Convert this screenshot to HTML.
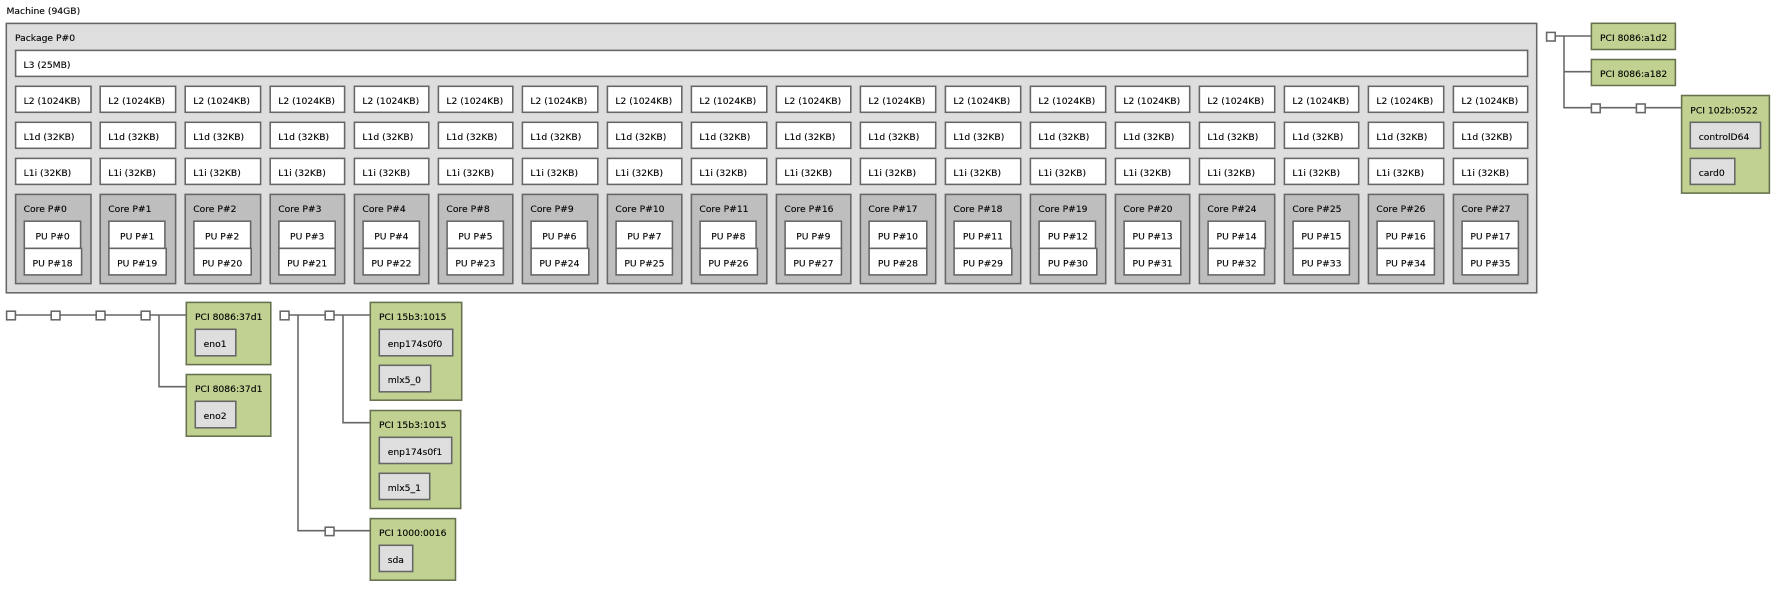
<!DOCTYPE html>
<html><head><meta charset="utf-8">
<style>
html,body{margin:0;padding:0;background:#fff}
svg{display:block;filter:blur(.25px)}
rect{stroke:#666;stroke-width:1.55;fill:#fff}
line,path{stroke:#666;stroke-width:1.55;fill:none}
.p{fill:#dedede}.c{fill:#bebebe}
.g{fill:#c0d192;stroke:#65704c}
.o{fill:#dedede}
text{font-family:"DejaVu Sans",sans-serif;font-size:9.2px;fill:#000;stroke:#000;stroke-width:.12}
.m{text-anchor:middle}
</style></head><body>
<svg width="1776" height="589" viewBox="0 0 1776 589" xmlns="http://www.w3.org/2000/svg">
<text x="6.5" y="14">Machine (94GB)</text>
<rect class="p" x="6.3" y="23.4" width="1530.4" height="269.4"/>
<text x="15" y="41">Package P#0</text>
<rect x="15.6" y="50.4" width="1512" height="26"/>
<text x="23.5" y="68">L3 (25MB)</text>

<g transform="translate(15.6)"><rect x="0" y="86.3" width="75.4" height="26"/><rect x="0" y="122.3" width="75.4" height="26"/><rect x="0" y="158.4" width="75.4" height="26"/><rect class="c" x="0" y="194.4" width="75.4" height="89.2"/><rect x="8.7" y="221.2" width="56.3" height="27.2"/><rect x="8.7" y="248.4" width="57.3" height="26.5"/><text x="8" y="104">L2 (1024KB)</text><text x="8" y="140">L1d (32KB)</text><text x="8" y="176">L1i (32KB)</text><text x="8" y="212">Core P#0</text><text class="m" x="37" y="239.5">PU P#0</text><text class="m" x="37" y="266.5">PU P#18</text></g>
<g transform="translate(100.2)"><rect x="0" y="86.3" width="75.4" height="26"/><rect x="0" y="122.3" width="75.4" height="26"/><rect x="0" y="158.4" width="75.4" height="26"/><rect class="c" x="0" y="194.4" width="75.4" height="89.2"/><rect x="8.7" y="221.2" width="56" height="27.2"/><rect x="8.7" y="248.4" width="57.3" height="26.5"/><text x="8" y="104">L2 (1024KB)</text><text x="8" y="140">L1d (32KB)</text><text x="8" y="176">L1i (32KB)</text><text x="8" y="212">Core P#1</text><text class="m" x="37" y="239.5">PU P#1</text><text class="m" x="37" y="266.5">PU P#19</text></g>
<g transform="translate(185.2)"><rect x="0" y="86.3" width="75.4" height="26"/><rect x="0" y="122.3" width="75.4" height="26"/><rect x="0" y="158.4" width="75.4" height="26"/><rect class="c" x="0" y="194.4" width="75.4" height="89.2"/><rect x="8.7" y="221.2" width="56.7" height="27.2"/><rect x="8.7" y="248.4" width="57.3" height="26.5"/><text x="8" y="104">L2 (1024KB)</text><text x="8" y="140">L1d (32KB)</text><text x="8" y="176">L1i (32KB)</text><text x="8" y="212">Core P#2</text><text class="m" x="37" y="239.5">PU P#2</text><text class="m" x="37" y="266.5">PU P#20</text></g>
<g transform="translate(270.2)"><rect x="0" y="86.3" width="74.4" height="26"/><rect x="0" y="122.3" width="74.4" height="26"/><rect x="0" y="158.4" width="74.4" height="26"/><rect class="c" x="0" y="194.4" width="74.4" height="89.2"/><rect x="8.7" y="221.2" width="56.3" height="27.2"/><rect x="8.7" y="248.4" width="56.3" height="26.5"/><text x="8" y="104">L2 (1024KB)</text><text x="8" y="140">L1d (32KB)</text><text x="8" y="176">L1i (32KB)</text><text x="8" y="212">Core P#3</text><text class="m" x="37" y="239.5">PU P#3</text><text class="m" x="37" y="266.5">PU P#21</text></g>
<g transform="translate(354.4)"><rect x="0" y="86.3" width="74.4" height="26"/><rect x="0" y="122.3" width="74.4" height="26"/><rect x="0" y="158.4" width="74.4" height="26"/><rect class="c" x="0" y="194.4" width="74.4" height="89.2"/><rect x="8.7" y="221.2" width="56.3" height="27.2"/><rect x="8.7" y="248.4" width="56.3" height="26.5"/><text x="8" y="104">L2 (1024KB)</text><text x="8" y="140">L1d (32KB)</text><text x="8" y="176">L1i (32KB)</text><text x="8" y="212">Core P#4</text><text class="m" x="37" y="239.5">PU P#4</text><text class="m" x="37" y="266.5">PU P#22</text></g>
<g transform="translate(438.4)"><rect x="0" y="86.3" width="74.4" height="26"/><rect x="0" y="122.3" width="74.4" height="26"/><rect x="0" y="158.4" width="74.4" height="26"/><rect class="c" x="0" y="194.4" width="74.4" height="89.2"/><rect x="8.7" y="221.2" width="56.3" height="27.2"/><rect x="8.7" y="248.4" width="56.3" height="26.5"/><text x="8" y="104">L2 (1024KB)</text><text x="8" y="140">L1d (32KB)</text><text x="8" y="176">L1i (32KB)</text><text x="8" y="212">Core P#8</text><text class="m" x="37" y="239.5">PU P#5</text><text class="m" x="37" y="266.5">PU P#23</text></g>
<g transform="translate(522.4)"><rect x="0" y="86.3" width="75.4" height="26"/><rect x="0" y="122.3" width="75.4" height="26"/><rect x="0" y="158.4" width="75.4" height="26"/><rect class="c" x="0" y="194.4" width="75.4" height="89.2"/><rect x="8.7" y="221.2" width="56.3" height="27.2"/><rect x="8.7" y="248.4" width="57.7" height="26.5"/><text x="8" y="104">L2 (1024KB)</text><text x="8" y="140">L1d (32KB)</text><text x="8" y="176">L1i (32KB)</text><text x="8" y="212">Core P#9</text><text class="m" x="37" y="239.5">PU P#6</text><text class="m" x="37" y="266.5">PU P#24</text></g>
<g transform="translate(607.4)"><rect x="0" y="86.3" width="74.4" height="26"/><rect x="0" y="122.3" width="74.4" height="26"/><rect x="0" y="158.4" width="74.4" height="26"/><rect class="c" x="0" y="194.4" width="74.4" height="89.2"/><rect x="8.7" y="221.2" width="56.3" height="27.2"/><rect x="8.7" y="248.4" width="56.3" height="26.5"/><text x="8" y="104">L2 (1024KB)</text><text x="8" y="140">L1d (32KB)</text><text x="8" y="176">L1i (32KB)</text><text x="8" y="212">Core P#10</text><text class="m" x="37" y="239.5">PU P#7</text><text class="m" x="37" y="266.5">PU P#25</text></g>
<g transform="translate(691.4)"><rect x="0" y="86.3" width="75.4" height="26"/><rect x="0" y="122.3" width="75.4" height="26"/><rect x="0" y="158.4" width="75.4" height="26"/><rect class="c" x="0" y="194.4" width="75.4" height="89.2"/><rect x="8.7" y="221.2" width="56" height="27.2"/><rect x="8.7" y="248.4" width="57.3" height="26.5"/><text x="8" y="104">L2 (1024KB)</text><text x="8" y="140">L1d (32KB)</text><text x="8" y="176">L1i (32KB)</text><text x="8" y="212">Core P#11</text><text class="m" x="37" y="239.5">PU P#8</text><text class="m" x="37" y="266.5">PU P#26</text></g>
<g transform="translate(776.4)"><rect x="0" y="86.3" width="74.4" height="26"/><rect x="0" y="122.3" width="74.4" height="26"/><rect x="0" y="158.4" width="74.4" height="26"/><rect class="c" x="0" y="194.4" width="74.4" height="89.2"/><rect x="8.7" y="221.2" width="56.3" height="27.2"/><rect x="8.7" y="248.4" width="56.3" height="26.5"/><text x="8" y="104">L2 (1024KB)</text><text x="8" y="140">L1d (32KB)</text><text x="8" y="176">L1i (32KB)</text><text x="8" y="212">Core P#16</text><text class="m" x="37" y="239.5">PU P#9</text><text class="m" x="37" y="266.5">PU P#27</text></g>
<g transform="translate(860.4)"><rect x="0" y="86.3" width="75.3" height="26"/><rect x="0" y="122.3" width="75.3" height="26"/><rect x="0" y="158.4" width="75.3" height="26"/><rect class="c" x="0" y="194.4" width="75.3" height="89.2"/><rect x="8.7" y="221.2" width="57.7" height="27.2"/><rect x="8.7" y="248.4" width="57.7" height="26.5"/><text x="8" y="104">L2 (1024KB)</text><text x="8" y="140">L1d (32KB)</text><text x="8" y="176">L1i (32KB)</text><text x="8" y="212">Core P#17</text><text class="m" x="37.5" y="239.5">PU P#10</text><text class="m" x="37.5" y="266.5">PU P#28</text></g>
<g transform="translate(945.4)"><rect x="0" y="86.3" width="75.3" height="26"/><rect x="0" y="122.3" width="75.3" height="26"/><rect x="0" y="158.4" width="75.3" height="26"/><rect class="c" x="0" y="194.4" width="75.3" height="89.2"/><rect x="8.7" y="221.2" width="56.7" height="27.2"/><rect x="8.7" y="248.4" width="57.7" height="26.5"/><text x="8" y="104">L2 (1024KB)</text><text x="8" y="140">L1d (32KB)</text><text x="8" y="176">L1i (32KB)</text><text x="8" y="212">Core P#18</text><text class="m" x="37.5" y="239.5">PU P#11</text><text class="m" x="37.5" y="266.5">PU P#29</text></g>
<g transform="translate(1030.4)"><rect x="0" y="86.3" width="75.3" height="26"/><rect x="0" y="122.3" width="75.3" height="26"/><rect x="0" y="158.4" width="75.3" height="26"/><rect class="c" x="0" y="194.4" width="75.3" height="89.2"/><rect x="8.7" y="221.2" width="56.4" height="27.2"/><rect x="8.7" y="248.4" width="57.7" height="26.5"/><text x="8" y="104">L2 (1024KB)</text><text x="8" y="140">L1d (32KB)</text><text x="8" y="176">L1i (32KB)</text><text x="8" y="212">Core P#19</text><text class="m" x="37.5" y="239.5">PU P#12</text><text class="m" x="37.5" y="266.5">PU P#30</text></g>
<g transform="translate(1115.4)"><rect x="0" y="86.3" width="74.3" height="26"/><rect x="0" y="122.3" width="74.3" height="26"/><rect x="0" y="158.4" width="74.3" height="26"/><rect class="c" x="0" y="194.4" width="74.3" height="89.2"/><rect x="8.7" y="221.2" width="56.7" height="27.2"/><rect x="8.7" y="248.4" width="56.7" height="26.5"/><text x="8" y="104">L2 (1024KB)</text><text x="8" y="140">L1d (32KB)</text><text x="8" y="176">L1i (32KB)</text><text x="8" y="212">Core P#20</text><text class="m" x="37.2" y="239.5">PU P#13</text><text class="m" x="37.2" y="266.5">PU P#31</text></g>
<g transform="translate(1199.4)"><rect x="0" y="86.3" width="75.3" height="26"/><rect x="0" y="122.3" width="75.3" height="26"/><rect x="0" y="158.4" width="75.3" height="26"/><rect class="c" x="0" y="194.4" width="75.3" height="89.2"/><rect x="8.7" y="221.2" width="57.3" height="27.2"/><rect x="8.7" y="248.4" width="56.3" height="26.5"/><text x="8" y="104">L2 (1024KB)</text><text x="8" y="140">L1d (32KB)</text><text x="8" y="176">L1i (32KB)</text><text x="8" y="212">Core P#24</text><text class="m" x="37.2" y="239.5">PU P#14</text><text class="m" x="37.2" y="266.5">PU P#32</text></g>
<g transform="translate(1284.4)"><rect x="0" y="86.3" width="74.3" height="26"/><rect x="0" y="122.3" width="74.3" height="26"/><rect x="0" y="158.4" width="74.3" height="26"/><rect class="c" x="0" y="194.4" width="74.3" height="89.2"/><rect x="8.7" y="221.2" width="56.3" height="27.2"/><rect x="8.7" y="248.4" width="56.3" height="26.5"/><text x="8" y="104">L2 (1024KB)</text><text x="8" y="140">L1d (32KB)</text><text x="8" y="176">L1i (32KB)</text><text x="8" y="212">Core P#25</text><text class="m" x="37" y="239.5">PU P#15</text><text class="m" x="37" y="266.5">PU P#33</text></g>
<g transform="translate(1368.4)"><rect x="0" y="86.3" width="75.3" height="26"/><rect x="0" y="122.3" width="75.3" height="26"/><rect x="0" y="158.4" width="75.3" height="26"/><rect class="c" x="0" y="194.4" width="75.3" height="89.2"/><rect x="8.7" y="221.2" width="57.3" height="27.2"/><rect x="8.7" y="248.4" width="57.3" height="26.5"/><text x="8" y="104">L2 (1024KB)</text><text x="8" y="140">L1d (32KB)</text><text x="8" y="176">L1i (32KB)</text><text x="8" y="212">Core P#26</text><text class="m" x="37.3" y="239.5">PU P#16</text><text class="m" x="37.3" y="266.5">PU P#34</text></g>
<g transform="translate(1453.4)"><rect x="0" y="86.3" width="74.3" height="26"/><rect x="0" y="122.3" width="74.3" height="26"/><rect x="0" y="158.4" width="74.3" height="26"/><rect class="c" x="0" y="194.4" width="74.3" height="89.2"/><rect x="8.7" y="221.2" width="56.3" height="27.2"/><rect x="8.7" y="248.4" width="56.3" height="26.5"/><text x="8" y="104">L2 (1024KB)</text><text x="8" y="140">L1d (32KB)</text><text x="8" y="176">L1i (32KB)</text><text x="8" y="212">Core P#27</text><text class="m" x="37" y="239.5">PU P#17</text><text class="m" x="37" y="266.5">PU P#35</text></g>

<!-- top right connectors -->
<path d="M1555 36H1591M1564 36V107.7H1681M1564 71.7H1591"/>
<rect x="1546.6" y="32.4" width="8.6" height="8.6"/>
<rect x="1591.4" y="104" width="8.8" height="8.6"/>
<rect x="1636.4" y="104" width="8.8" height="8.6"/>
<rect class="g" x="1591.4" y="23.3" width="84" height="26.2"/>
<text x="1600" y="41">PCI 8086:a1d2</text>
<rect class="g" x="1591.4" y="59.5" width="84" height="26"/>
<text x="1600" y="77">PCI 8086:a182</text>
<rect class="g" x="1681.6" y="95.5" width="87.8" height="97.6"/>
<text x="1690.3" y="113.5">PCI 102b:0522</text>
<rect class="o" x="1690.3" y="122.3" width="70.2" height="26"/>
<text x="1698.7" y="140">controlD64</text>
<rect class="o" x="1690.3" y="158.4" width="44.5" height="26"/>
<text x="1698.7" y="176">card0</text>

<!-- bottom left connectors -->
<path d="M15 315H186M159 315V386.7H186"/>
<rect x="6.6" y="311.2" width="8.8" height="8.6"/>
<rect x="51.2" y="311.2" width="8.8" height="8.6"/>
<rect x="96.2" y="311.2" width="8.8" height="8.6"/>
<rect x="141.2" y="311.2" width="8.8" height="8.6"/>
<rect class="g" x="186.3" y="302.4" width="84.5" height="62.2"/>
<text x="195" y="320">PCI 8086:37d1</text>
<rect class="o" x="195.3" y="329.3" width="40.5" height="26.5"/>
<text x="203.6" y="347">eno1</text>
<rect class="g" x="186.3" y="374.5" width="84.5" height="61.7"/>
<text x="195" y="392">PCI 8086:37d1</text>
<rect class="o" x="195.3" y="401.3" width="40.5" height="26.5"/>
<text x="203.6" y="419">eno2</text>

<!-- bottom right connectors -->
<path d="M289 315H370M298 315V530.7H370M343 315V422.7H370"/>
<rect x="280.2" y="311.2" width="8.8" height="8.6"/>
<rect x="325.2" y="311.2" width="8.8" height="8.6"/>
<rect x="325.2" y="527.2" width="8.8" height="8.4"/>
<rect class="g" x="370.3" y="302.4" width="91.4" height="97.8"/>
<text x="379" y="320">PCI 15b3:1015</text>
<rect class="o" x="379.3" y="329.3" width="73.4" height="26.5"/>
<text x="387.7" y="347">enp174s0f0</text>
<rect class="o" x="379.3" y="365.3" width="51.4" height="26.5"/>
<text x="387.7" y="383">mlx5_0</text>
<rect class="g" x="370.3" y="410.5" width="90.4" height="98"/>
<text x="379" y="428">PCI 15b3:1015</text>
<rect class="o" x="379.3" y="437.3" width="72.4" height="26.2"/>
<text x="387.7" y="455">enp174s0f1</text>
<rect class="o" x="379.3" y="473.3" width="50.4" height="26.2"/>
<text x="387.7" y="491">mlx5_1</text>
<rect class="g" x="370.3" y="518.6" width="85.2" height="61.6"/>
<text x="379" y="536">PCI 1000:0016</text>
<rect class="o" x="379.3" y="545.3" width="33.4" height="26.2"/>
<text x="387.7" y="563">sda</text>
</svg>
</body></html>
